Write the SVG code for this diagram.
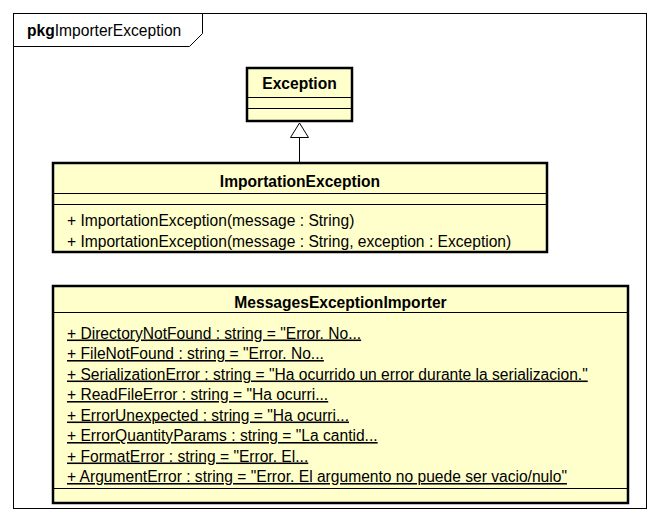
<svg xmlns="http://www.w3.org/2000/svg" width="660" height="522" viewBox="0 0 660 522">
<style>
text{font-family:"Liberation Sans",Arial,sans-serif;font-size:15.6px;fill:#000}
.b{font-weight:bold}
.u{text-decoration:underline}
.box{fill:#ffffcc;stroke:#000;stroke-width:2.5}
.sep{stroke:#000;stroke-width:1;fill:none}
</style>
<rect x="0" y="0" width="660" height="522" fill="#fff"/>
<g id="frame">
<rect x="13.5" y="13.5" width="633" height="495" fill="none" stroke="#000" stroke-width="1"/>
<path d="M13.5 46.5 H189.5 L202.5 33.5 V13.5" fill="none" stroke="#000" stroke-width="1"/>
<text x="27" y="36"><tspan class="b">pkg</tspan>ImporterException</text>
</g>
<g id="Exception">
<rect class="box" x="247" y="68" width="105" height="53"/>
<line class="sep" x1="247" y1="97.5" x2="352" y2="97.5"/>
<line class="sep" x1="247" y1="108.5" x2="352" y2="108.5"/>
<text class="b" x="299.5" y="88.5" text-anchor="middle">Exception</text>
</g>
<g id="ImportationException">
<rect class="box" x="53" y="163" width="494" height="89"/>
<line class="sep" x1="53" y1="193.5" x2="547" y2="193.5"/>
<line class="sep" x1="53" y1="204.5" x2="547" y2="204.5"/>
<text class="b" x="300" y="186.5" text-anchor="middle">ImportationException</text>
<text x="67" y="225.5">+ ImportationException(message : String)</text>
<text x="67" y="246.5">+ ImportationException(message : String, exception : Exception)</text>
</g>
<g id="MessagesExceptionImporter">
<rect class="box" x="53" y="286" width="575" height="217"/>
<line class="sep" x1="53" y1="312.5" x2="628" y2="312.5"/>
<line class="sep" x1="53" y1="488.5" x2="628" y2="488.5"/>
<text class="b" x="340.5" y="307.5" text-anchor="middle">MessagesExceptionImporter</text>
<text class="u" x="67" y="338.5">+ DirectoryNotFound : string = "Error. No...</text>
<text class="u" x="67" y="359">+ FileNotFound : string = "Error. No...</text>
<text class="u" x="67" y="379.5">+ SerializationError : string = "Ha ocurrido un error durante la serializacion."</text>
<text class="u" x="67" y="400">+ ReadFileError : string = "Ha ocurri...</text>
<text class="u" x="67" y="420.5">+ ErrorUnexpected : string = "Ha ocurri...</text>
<text class="u" x="67" y="441">+ ErrorQuantityParams : string = "La cantid...</text>
<text class="u" x="67" y="461.5">+ FormatError : string = "Error. El...</text>
<text class="u" x="67" y="482">+ ArgumentError : string = "Error. El argumento no puede ser vacio/nulo"</text>
</g>
<g id="connectors">
<line x1="299.5" y1="137.5" x2="299.5" y2="162" stroke="#000" stroke-width="1"/>
<polygon points="299.5,123 290.5,137.5 308.5,137.5" fill="#fff" stroke="#000" stroke-width="1"/>
</g>
</svg>
